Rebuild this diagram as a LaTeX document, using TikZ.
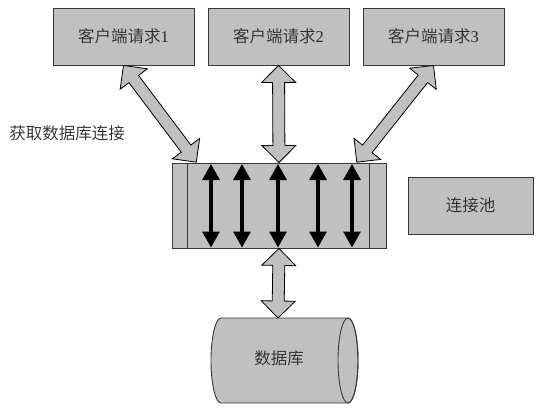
\documentclass[tikz,border=0pt]{standalone}
\usepackage{fontspec}
\setmainfont{Liberation Serif}
\newfontfamily\cjk{Noto Sans CJK SC}[UprightFont=* DemiLight]
\usetikzlibrary{calc,arrows.meta}
\definecolor{boxgray}{HTML}{C0C0C0}
\definecolor{edge}{HTML}{383838}
\definecolor{txt}{HTML}{2A2A2A}
\tikzset{
  box/.style={draw=edge, fill=boxgray, line width=0.9pt, minimum width=141pt, minimum height=57pt,
    inner sep=0pt, text=txt, font=\fontsize{16.5}{18}\selectfont},
  fat/.style={draw=black, fill=boxgray, line width=0.8pt, line join=miter},
  thinarrow/.style={line width=3.2pt, black, {Triangle[width=17pt,length=16pt]}-{Triangle[width=17pt,length=16pt]}},
  lbl/.style={text=txt, font=\fontsize{16.5}{18}\selectfont\cjk, inner sep=0pt},
}
\newcommand\fatarrow[2]{%
  \path let \p1=(#1), \p2=(#2) in \pgfextra{%
    \pgfmathsetmacro\tmpa{atan2(\y2-\y1,\x2-\x1)}\xdef\faang{\tmpa}%
    \pgfmathsetmacro\tmpb{veclen(\x2-\x1,\y2-\y1)}\xdef\falen{\tmpb}};
  \begin{scope}[shift={(#1)}, rotate=\faang, x=1pt, y=1pt]
    \draw[fat] (0,0) -- (17,17) -- (17,6) -- (\falen-17,6) -- (\falen-17,17) -- (\falen,0)
      -- (\falen-17,-17) -- (\falen-17,-6) -- (17,-6) -- (17,-17) -- cycle;
  \end{scope}}
\begin{document}
\begin{tikzpicture}[x=1pt,y=-1pt]
\useasboundingbox[fill=white] (0,0) rectangle (546,410);
% client boxes
\node[box] (c1) at (123.5,36.5) {{\cjk 客户端请求}1};
\node[box] (c2) at (278.5,36.5) {{\cjk 客户端请求}2};
\node[box] (c3) at (433.5,36.5) {{\cjk 客户端请求}3};
% pool
\node[box, minimum width=214pt, minimum height=85pt] (pool) at (279,205.5) {};
\draw[edge, line width=0.9pt] ($(pool.north west)+(16,0)$) -- ($(pool.south west)+(16,0)$);
\draw[edge, line width=0.9pt] ($(pool.north east)+(-17,0)$) -- ($(pool.south east)+(-17,0)$);
\foreach \xx in {211,242,278,318,352}{
  \draw[thinarrow] (\xx,164) -- (\xx,247.5);
}
% pool label box
\node[box, minimum width=125pt] (lp) at (470.5,205.5) {\cjk 连接池};
% left label
\node[lbl] (get) at (67,133) {获取数据库连接};
% database cylinder
\draw[fill=boxgray, draw=edge, line width=0.9pt] (348,318) -- (221,318)
   arc[start angle=270, end angle=90, x radius=10, y radius=42.5] -- (348,403)
   arc[start angle=90, end angle=-90, x radius=10, y radius=42.5] -- cycle;
\draw[edge, line width=0.9pt] (348,360.5) ellipse [x radius=10, y radius=42.5];
\node[lbl] (db) at (279,358) {数据库};
\coordinate (dbtop) at (278,318);
% connection points on pool
\coordinate (p1) at ($(pool.north west)+(25,0)$);
\coordinate (p3) at ($(pool.north east)+(-30,0)$);
% fat arrows
\fatarrow{c1.south}{p1}
\fatarrow{c2.south}{pool.north}
\fatarrow{c3.south}{p3}
\fatarrow{pool.south}{dbtop}
\end{tikzpicture}
\end{document}
